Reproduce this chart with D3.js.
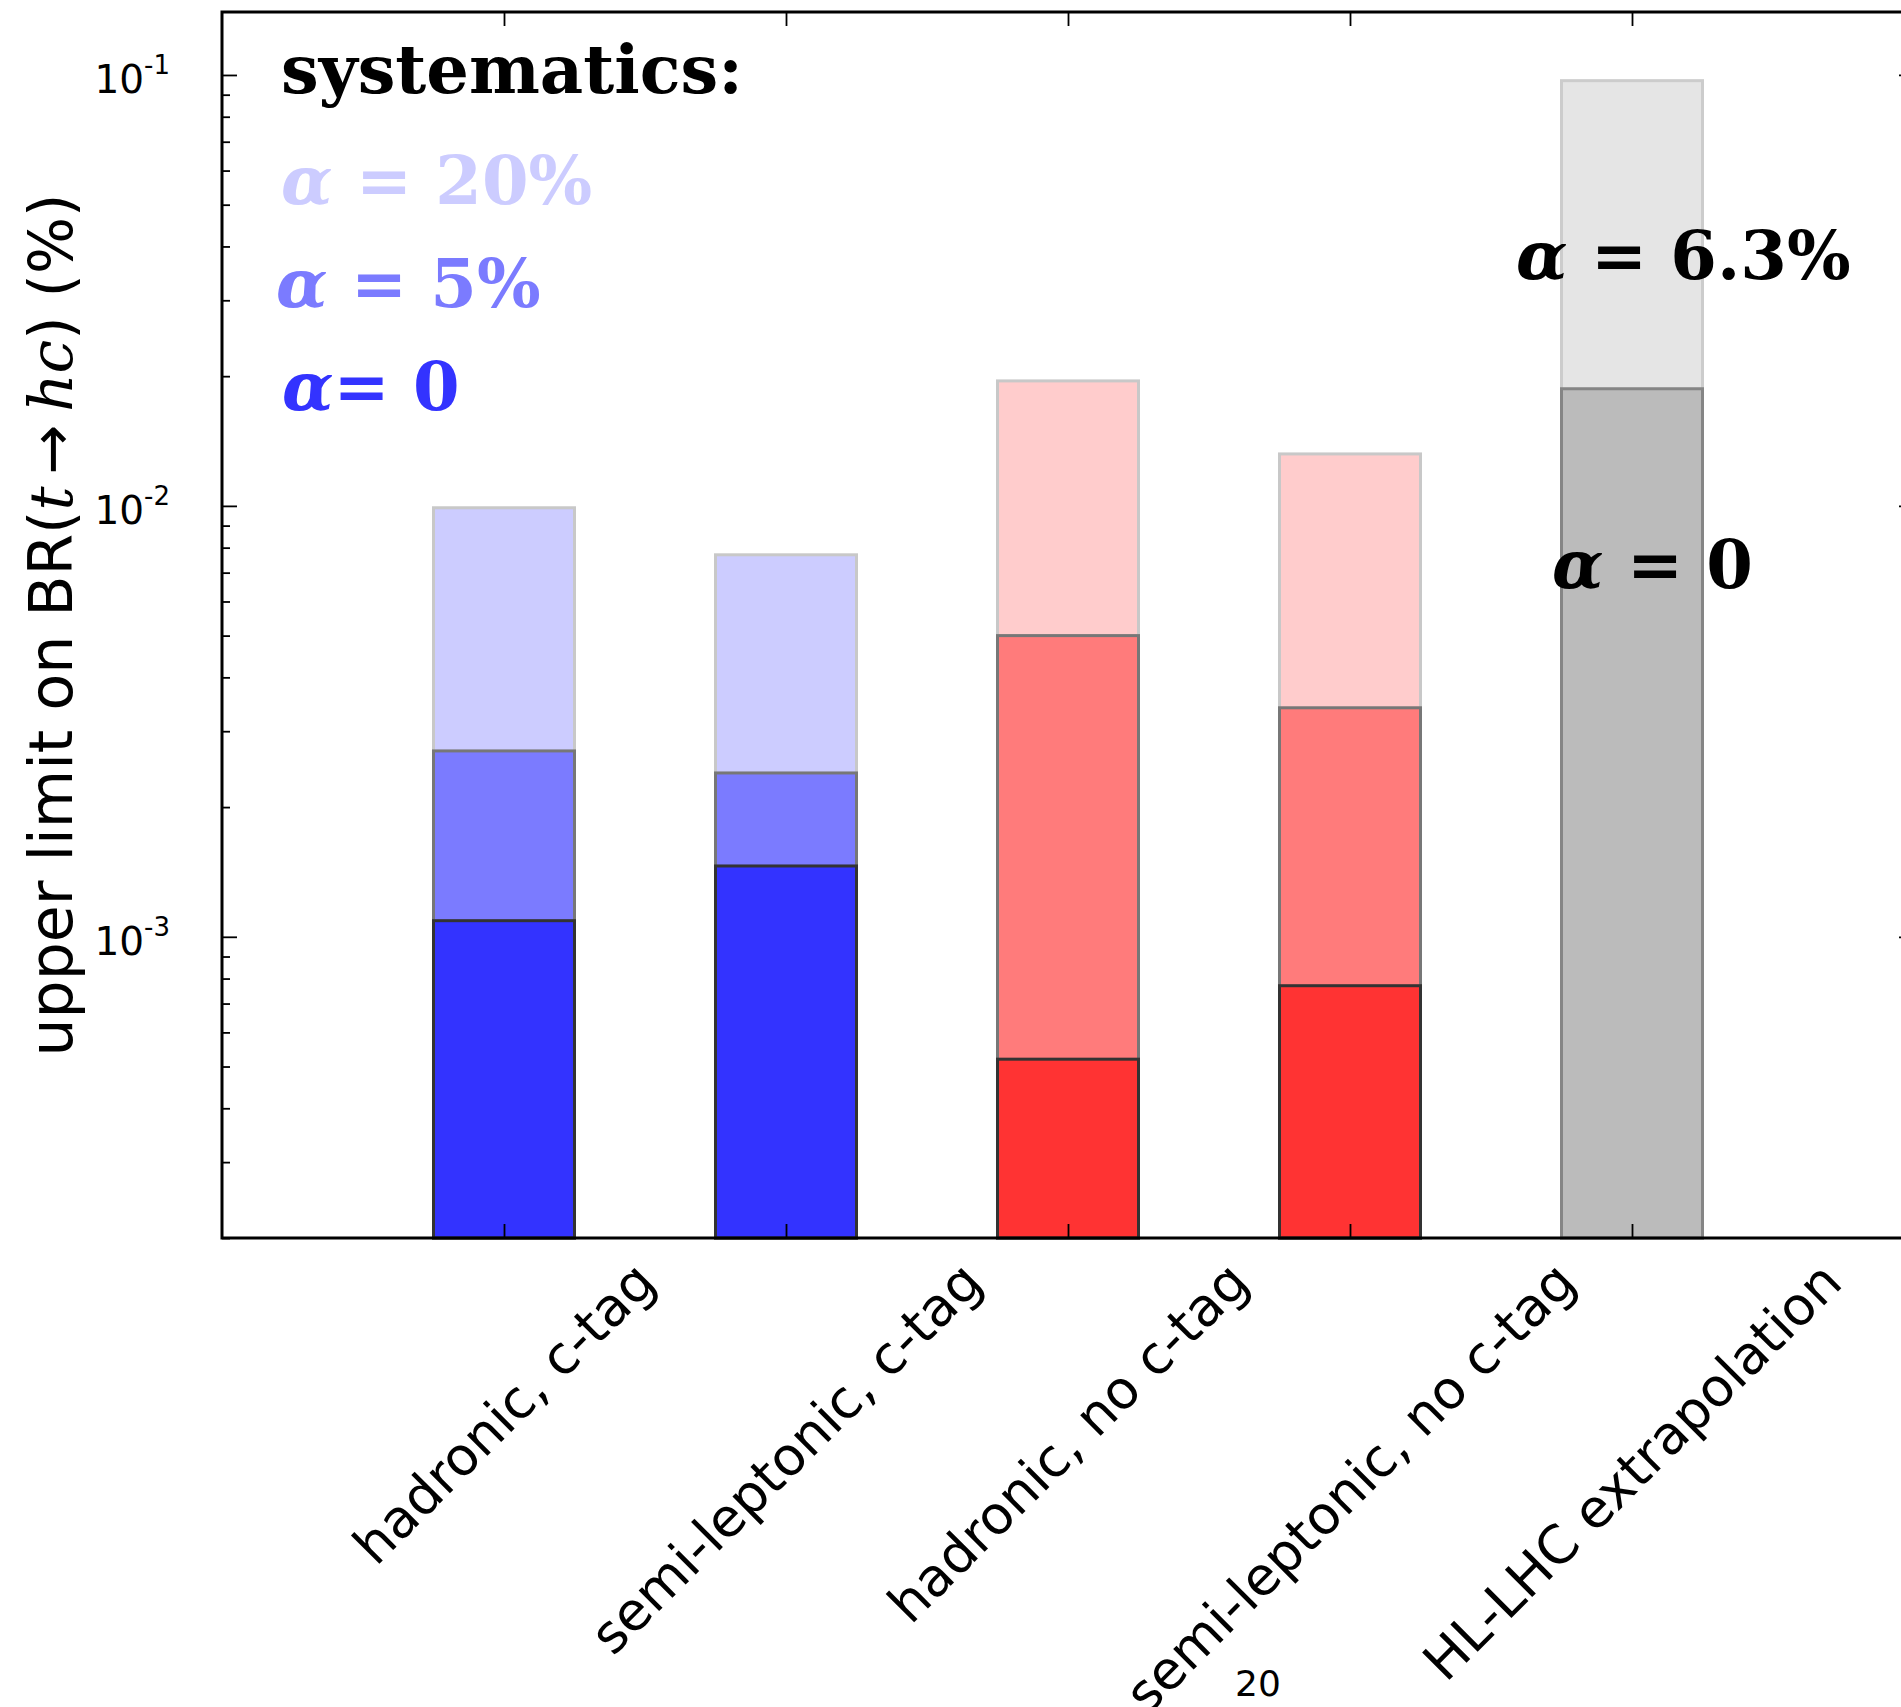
<!DOCTYPE html>
<html>
<head>
<meta charset="utf-8">
<script src="https://cdn.jsdelivr.net/npm/d3@7"></script>
<style>
body { margin: 0; background: #ffffff; }
</style>
</head>
<body>
<div id="chart"></div>
<script>
// chart data
var categories = ["hadronic, c-tag", "semi-leptonic, c-tag", "hadronic, no c-tag",
                  "semi-leptonic, no c-tag", "HL-LHC extrapolation"];
var limitOuter = [0.0099, 0.0077, 0.0195, 0.0132, 0.097];   // alpha = 20% (6.3% for HL-LHC)
var limitMid = [0.0027, 0.0024, 0.0050, 0.0034, null];      // alpha = 5%
var limitZero = [0.00109, 0.00146, 0.00052, 0.00077, 0.0187]; // alpha = 0
var barFamily = ["blue", "blue", "red", "red", "gray"];
var yDecades = [1e-3, 1e-2, 1e-1];
var yExponents = ["-3", "-2", "-1"];
var yRange = [2e-4, 0.14];

var palette = {
    blue: { outer: "#ccccff", mid: "#7b7bff", zero: "#3333ff" },
    red:  { outer: "#ffcccc", mid: "#ff7b7b", zero: "#ff3333" },
    gray: { outer: "#e5e5e5", mid: "#bbbbbb", zero: "#bbbbbb" }
};
var edges = { outer: "#c8c8c8", mid: "#777777", zero: "#333333" };

var width = 1901;
var height = 1707;
var plotLeft = 222, plotRight = 1914, plotTop = 12, plotBottom = 1238;

var svg = d3.select("#chart")
    .append("svg")
    .attr("width", width)
    .attr("height", height)
    .style("display", "block");

var x = d3.scaleLinear().domain([0, categories.length + 1]).range([plotLeft, plotRight]);
var y = d3.scaleLog().domain(yRange).range([plotBottom, plotTop]);
var barW = x(0.5) - x(0);

// bars: outer layer first, then the narrower limits on top
var layers = [
    { key: "outer", values: limitOuter },
    { key: "mid", values: limitMid },
    { key: "zero", values: limitZero }
];

var barsGroup = svg.append("g");
layers.forEach(function(layer) {
    barsGroup.selectAll(".bar-" + layer.key)
        .data(layer.values.map(function(v, i) { return { v: v, i: i }; })
              .filter(function(d) { return d.v !== null; }))
        .enter()
        .append("rect")
        .attr("class", "bar-" + layer.key)
        .attr("x", function(d) { return x(d.i + 1) - barW / 2; })
        .attr("y", function(d) { return y(d.v); })
        .attr("width", barW)
        .attr("height", function(d) { return plotBottom - y(d.v); })
        .attr("fill", function(d) { return palette[barFamily[d.i]][layer.key]; })
        .attr("stroke", function(d) {
            if (barFamily[d.i] == "gray" && layer.key == "zero") return "#858585";
            if (barFamily[d.i] == "gray") return "#cccccc";
            return edges[layer.key];
        })
        .attr("stroke-width", 3);
});

// minor tick values for the log axis
var minorTicks = [];
[1e-4, 1e-3, 1e-2].forEach(function(dec) {
    for (var k = 2; k <= 9; k++) {
        var v = k * dec;
        if (v >= yRange[0] && v <= yRange[1]) minorTicks.push(v);
    }
});

function styleAxis(g) {
    g.select(".domain").remove();
    g.selectAll(".tick line").attr("stroke", "#000").attr("stroke-width", 1.8);
    g.selectAll(".tick text").remove();
}

svg.append("g").attr("transform", "translate(" + plotLeft + ",0)")
    .call(d3.axisLeft(y).tickValues(yDecades).tickSize(-15).tickFormat(""))
    .call(styleAxis);
svg.append("g").attr("transform", "translate(" + plotLeft + ",0)")
    .call(d3.axisLeft(y).tickValues(minorTicks).tickSize(-8).tickFormat(""))
    .call(styleAxis);
svg.append("g").attr("transform", "translate(" + plotRight + ",0)")
    .call(d3.axisRight(y).tickValues(yDecades).tickSize(-15).tickFormat(""))
    .call(styleAxis);
svg.append("g").attr("transform", "translate(" + plotRight + ",0)")
    .call(d3.axisRight(y).tickValues(minorTicks).tickSize(-8).tickFormat(""))
    .call(styleAxis);

var catTicks = categories.map(function(c, i) { return i + 1; });
svg.append("g").attr("transform", "translate(0," + plotBottom + ")")
    .call(d3.axisBottom(x).tickValues(catTicks).tickSize(-14).tickFormat(""))
    .call(styleAxis);
svg.append("g").attr("transform", "translate(0," + plotTop + ")")
    .call(d3.axisTop(x).tickValues(catTicks).tickSize(-14).tickFormat(""))
    .call(styleAxis);

// frame
svg.append("path")
    .attr("d", "M" + plotRight + "," + plotTop + "H" + plotLeft + "V" + plotBottom + "H" + plotRight)
    .attr("fill", "none")
    .attr("stroke", "#000")
    .attr("stroke-width", 3);

// y tick labels 10^n
var yLabels = svg.append("g")
    .attr("font-family", "DejaVu Sans, sans-serif")
    .attr("fill", "#000");
yDecades.forEach(function(v, i) {
    var t = yLabels.append("text")
        .attr("x", 170)
        .attr("y", y(v) + 18)
        .attr("text-anchor", "end")
        .attr("font-size", 39);
    t.append("tspan").text("10");
    t.append("tspan").attr("dy", -19).attr("font-size", 26).text(yExponents[i]);
});

// y axis title
var yTitle = svg.append("text")
    .attr("transform", "translate(51," + ((plotTop + plotBottom) / 2) + ") rotate(-90)")
    .attr("text-anchor", "middle")
    .attr("dominant-baseline", "central")
    .attr("font-family", "DejaVu Sans, sans-serif")
    .attr("font-size", 60)
    .attr("fill", "#000");
yTitle.append("tspan").text("upper limit on BR(");
yTitle.append("tspan").attr("font-family", "DejaVu Serif, serif").attr("font-style", "italic").text("t");
yTitle.append("tspan").text("\u2009\u2192\u2009");
yTitle.append("tspan").attr("font-family", "DejaVu Serif, serif").attr("font-style", "italic").text("hc");
yTitle.append("tspan").text(") (%)");

// x tick labels, rotated 45 degrees, box centred under the tick
var xLabelSize = 53;
var labelTop = 1250;
svg.append("g").selectAll("text")
    .data(categories)
    .enter()
    .append("text")
    .attr("font-family", "DejaVu Sans, sans-serif")
    .attr("font-size", xLabelSize)
    .attr("fill", "#000")
    .attr("text-anchor", "middle")
    .attr("dominant-baseline", "central")
    .text(function(d) { return d; })
    .attr("transform", function(d, i) {
        var len = this.getComputedTextLength();
        var boxH = (len + 1.17 * xLabelSize) / Math.SQRT2;
        return "translate(" + x(i + 1) + "," + (labelTop + boxH / 2) + ") rotate(-45)";
    });

// annotations
var notes = svg.append("g")
    .attr("font-family", "DejaVu Serif, serif")
    .attr("font-weight", "bold")
    .attr("font-size", 67);

notes.append("text").attr("x", 281).attr("y", 93).attr("fill", "#000").text("systematics:");

function alphaNote(xp, yp, color, rest) {
    var t = notes.append("text").attr("x", xp).attr("y", yp).attr("fill", color);
    t.append("tspan").attr("font-style", "italic").text("\u03b1");
    t.append("tspan").text(rest);
    return t;
}
alphaNote(281, 204, "#ccccff", " = 20%");
alphaNote(276, 307, "#7b7bff", " = 5%");
alphaNote(282, 410, "#3333ff", "= 0");
alphaNote(1516, 279, "#000", " = 6.3%");
alphaNote(1552, 588, "#000", " = 0");

// page number
svg.append("text")
    .attr("x", 1258)
    .attr("y", 1696)
    .attr("text-anchor", "middle")
    .attr("font-family", "DejaVu Sans, sans-serif")
    .attr("font-size", 36)
    .attr("fill", "#000")
    .text("20");
</script>
</body>
</html>
